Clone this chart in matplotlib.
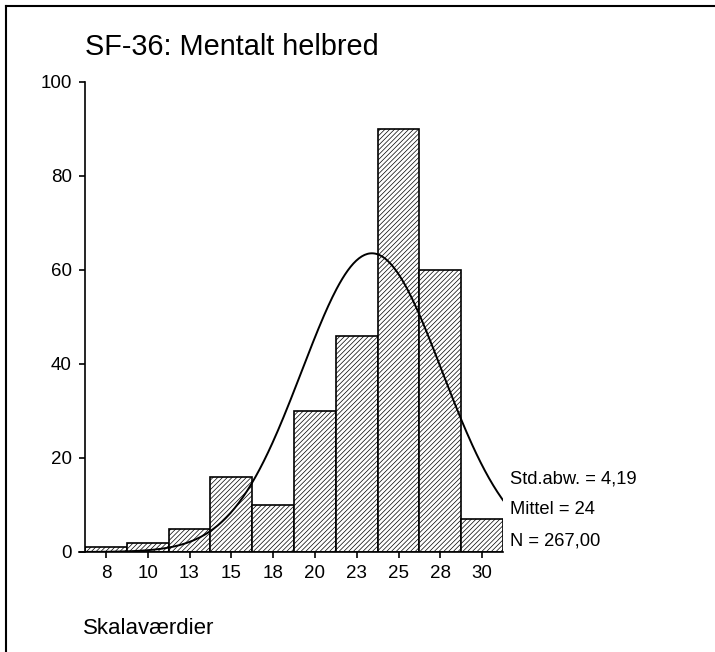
import numpy as np
import matplotlib
matplotlib.use('Agg')
import matplotlib.pyplot as plt
from matplotlib.lines import Line2D

plt.rcParams['font.family'] = ['Liberation Sans', 'DejaVu Sans']
plt.rcParams['hatch.linewidth'] = 0.5

# histogram data (bin centres, counts)
bin_centers = [7.5, 10, 12.5, 15, 17.5, 20, 22.5, 25, 27.5, 30]
counts = [1, 2, 5, 16, 10, 30, 46, 90, 60, 7]
tick_labels = ['8', '10', '13', '15', '18', '20', '23', '25', '28', '30']
bin_width = 2.5

std_dev = 4.19
mean_shown = 24
n_total = 267

W, H = 715, 652
fig = plt.figure(figsize=(W / 100, H / 100), dpi=100)
ax = fig.add_axes([85 / W, 1 - 552 / H, (503 - 85) / W, (552 - 82) / H])

ax.bar(bin_centers, counts, width=bin_width, color='white', edgecolor='black',
       linewidth=1.2, hatch='///////', zorder=2)

# fitted normal curve
mean_data = np.sum(np.array(bin_centers) * np.array(counts)) / np.sum(counts)
xs = np.linspace(bin_centers[0] - bin_width / 2, bin_centers[-1] + bin_width / 2, 300)
ys = n_total * bin_width / (std_dev * np.sqrt(2 * np.pi)) * np.exp(-0.5 * ((xs - mean_data) / std_dev) ** 2)
ax.plot(xs, ys, color='black', linewidth=1.4, zorder=3)

ax.set_xlim(bin_centers[0] - bin_width / 2, bin_centers[-1] + bin_width / 2)
ax.set_ylim(0, 100)
ax.set_xticks(bin_centers)
ax.set_xticklabels(tick_labels)
ax.set_yticks([0, 20, 40, 60, 80, 100])

for s in ['top', 'right']:
    ax.spines[s].set_visible(False)
ax.spines['left'].set_linewidth(1.2)
ax.spines['bottom'].set_visible(False)
ax.plot([-0.014, 1], [0, 0], transform=ax.transAxes, color='black',
        linewidth=1.2, clip_on=False, zorder=4)

ax.tick_params(axis='y', length=4.5, width=1.2, pad=5, labelsize=13.5)
ax.tick_params(axis='x', length=4, width=1.2, pad=5, labelsize=13.5)

fig.text(85 / W, 1 - 55 / H, 'SF-36: Mentalt helbred', fontsize=20.8, va='baseline')
fig.text(83 / W, 1 - 634 / H, 'Skalaværdier', fontsize=16, va='baseline')

stats = ['Std.abw. = 4,19', 'Mittel = %d' % mean_shown, 'N = 267,00']
for txt, yb in zip(stats, [483, 514, 545]):
    fig.text(510 / W, 1 - yb / H, txt, fontsize=13.2, va='baseline')

# outer frame (left and top edges)
fig.add_artist(Line2D([6 / W, 6 / W], [0, 1 - 6 / H], color='black', linewidth=1.5))
fig.add_artist(Line2D([6 / W, 1], [1 - 6 / H, 1 - 6 / H], color='black', linewidth=1.5))

fig.savefig('out.png', dpi=100)
